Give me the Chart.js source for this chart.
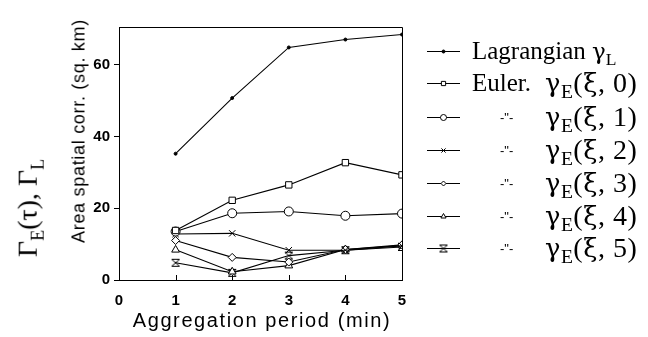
<!DOCTYPE html>
<html>
<head>
<meta charset="utf-8">
<script src="https://cdn.jsdelivr.net/npm/chart.js@4"></script>
<style>
  body { margin: 0; background: #fff; }
  #wrap { position: relative; width: 648px; height: 337px; overflow: hidden; }
  canvas { position: absolute; left: 0; top: 0; }
  .t { position: absolute; color: #000; white-space: nowrap; }
  .serif { font-family: "Liberation Serif", "DejaVu Serif", serif; }
  .sans { font-family: "Liberation Sans", Arial, sans-serif; }
  .rot { transform: translate(-50%, -50%) rotate(-90deg); }
  .meio { transform: translate(-50%, -50%); }
  .palavra { font-size: 25px; line-height: 28px; }
  .gama { font-size: 28px; line-height: 30px; letter-spacing: 0.5px; }
  .g { font-family: "DejaVu Serif", serif; font-size: 0.92em; }
  .palavra sub, .gama sub { font-size: 0.7em; vertical-align: -6px; line-height: 0; }
  .ditto { font-family: "Liberation Sans", Arial, sans-serif; font-size: 13px; }
</style>
</head>
<body>
<div id="wrap">
  <canvas id="grafico" width="648" height="337"></canvas>
  <div class="t sans rot" style="left:79px; top:131px; font-size:18px; letter-spacing:0.7px;">Area spatial corr. (sq. km)</div>
  <div class="t sans meio" style="left:262px; top:320px; font-size:20px; letter-spacing:1.6px;">Aggregation period (min)</div>
  <div class="t serif rot" style="left:30px; top:208px; font-size:28px;">Γ<sub style="font-size:18px;">E</sub>(τ), Γ<sub style="font-size:18px;">L</sub></div>
  <div id="legenda"></div>
</div>
<script>
// Valores
const periodos = [1, 2, 3, 4, 5];
const lagrangiano = [35.2, 50.7, 64.8, 67.0, 68.4];
const euler0 = [13.8, 22.2, 26.5, 32.7, 29.3];
const euler1 = [13.5, 18.6, 19.1, 17.9, 18.5];
const euler2 = [12.8, 13.0, 8.3, 8.3, 9.5];
const euler3 = [11.0, 6.3, 5.0, 8.5, 9.8];
const euler4 = [8.4, 2.3, 4.0, 8.5, 9.6];
const euler5 = [4.8, 2.0, 6.8, 8.3, 9.2];
const ticksY = [0, 20, 40, 60];
const ticksX = [0, 1, 2, 3, 4, 5];

const nomes = [
    'Lagrangian',
    'Euler.',
    '-"-', '-"-', '-"-', '-"-', '-"-'
];

// Posição vertical das linhas da legenda
const linhasY = [51, 83, 117, 150, 183, 216, 248];

// Marcador de ampulheta (não existe no Chart.js)
function criarAmpulheta() {
    const c = document.createElement('canvas');
    c.width = 10; c.height = 10;
    const g = c.getContext('2d');
    g.strokeStyle = '#000';
    g.fillStyle = '#fff';
    g.lineWidth = 1;
    g.beginPath();
    g.moveTo(1, 1.5); g.lineTo(9, 1.5); g.lineTo(1, 8.5); g.lineTo(9, 8.5); g.closePath();
    g.fill(); g.stroke();
    return c;
}
const ampulheta = criarAmpulheta();

function pontos(valores) {
    return periodos.map((p, i) => ({ x: p, y: valores[i] }));
}

function serie(valores, estilo, raio, rot) {
    return {
        data: pontos(valores),
        borderColor: '#000',
        borderWidth: 1.1,
        pointStyle: estilo,
        pointRadius: raio,
        pointRotation: rot || 0,
        pointBorderColor: '#000',
        pointBackgroundColor: '#fff',
        pointBorderWidth: 1,
        tension: 0
    };
}

const series = [
    Object.assign(serie(lagrangiano, 'circle', 1.5), { pointBackgroundColor: '#000' }),
    serie(euler0, 'rect', 4.5),
    serie(euler1, 'circle', 4.5),
    serie(euler2, 'cross', 4.5, 45),
    serie(euler3, 'rectRot', 4),
    serie(euler4, 'triangle', 4.5),
    serie(euler5, ampulheta, 5)
];

// Desenha moldura, ticks internos do eixo x e amostras da legenda
const extras = {
    id: 'extras',
    afterDraw(chart) {
        const ctx = chart.ctx;
        const a = chart.chartArea;
        const sx = chart.scales.x;
        ctx.save();
        ctx.strokeStyle = '#000';
        ctx.lineWidth = 1;
        ctx.beginPath();
        ctx.moveTo(a.left, a.top + 0.5); ctx.lineTo(a.right + 0.5, a.top + 0.5);
        ctx.lineTo(a.right + 0.5, a.bottom);
        ctx.stroke();
        ticksX.slice(1, 5).forEach(v => {
            const px = Math.round(sx.getPixelForValue(v)) + 0.5;
            ctx.beginPath();
            ctx.moveTo(px, a.bottom); ctx.lineTo(px, a.bottom - 5);
            ctx.stroke();
        });
        // legenda
        series.forEach((s, i) => {
            const y = linhasY[i] + 0.5;
            ctx.beginPath();
            ctx.moveTo(427, y); ctx.lineTo(460, y);
            ctx.stroke();
            ctx.fillStyle = s.pointBackgroundColor;
            ctx.strokeStyle = '#000';
            Chart.helpers.drawPoint(ctx, {
                pointStyle: s.pointStyle,
                radius: Math.max(1.5, s.pointRadius - 1.5),
                rotation: s.pointRotation,
                borderWidth: 1
            }, 443.5, y);
        });
        ctx.restore();
    }
};

function montarLegenda() {
    const alvo = document.getElementById('legenda');
    nomes.forEach((n, i) => {
        const y = linhasY[i];
        if (i === 0) {
            alvo.insertAdjacentHTML('beforeend',
                `<div class="t serif palavra" style="left:472px; top:${y - 14}px;">${n} <span class="g">γ</span><sub>L</sub></div>`);
            return;
        }
        if (i === 1) {
            alvo.insertAdjacentHTML('beforeend',
                `<div class="t serif palavra" style="left:472px; top:${y - 14}px;">${n}</div>`);
        } else {
            alvo.insertAdjacentHTML('beforeend',
                `<div class="t ditto" style="left:500px; top:${y - 7}px;">${n}</div>`);
        }
        alvo.insertAdjacentHTML('beforeend',
            `<div class="t serif gama" style="left:545px; top:${y - 15}px;"><span class="g">γ</span><sub>E</sub>(<span class="g">ξ</span>, ${i - 1})</div>`);
    });
}

window.onload = function() {
    montarLegenda();
    new Chart(document.getElementById('grafico').getContext('2d'), {
        type: 'line',
        data: { datasets: series },
        plugins: [extras],
        options: {
            responsive: false,
            animation: false,
            devicePixelRatio: 1,
            layout: { padding: { left: 0, right: 246, top: 27, bottom: 0 } },
            plugins: { legend: { display: false }, tooltip: { enabled: false } },
            scales: {
                x: {
                    type: 'linear',
                    min: 0,
                    max: 5,
                    afterFit: s => { s.height = 57; },
                    afterBuildTicks: s => { s.ticks = ticksX.map(v => ({ value: v })); },
                    grid: { drawOnChartArea: false, drawTicks: false },
                    border: { display: true, color: '#000', width: 1 },
                    ticks: {
                        color: '#000',
                        padding: 12,
                        font: { family: 'Liberation Sans', size: 15, weight: 'bold' }
                    }
                },
                y: {
                    min: 0,
                    max: 70.5,
                    afterFit: s => { s.width = 119; },
                    afterBuildTicks: s => { s.ticks = ticksY.map(v => ({ value: v })); },
                    grid: { drawOnChartArea: false, drawTicks: true, tickLength: 5, color: '#000' },
                    border: { display: true, color: '#000', width: 1 },
                    ticks: {
                        color: '#000',
                        padding: 4,
                        font: { family: 'Liberation Sans', size: 15, weight: 'bold' }
                    }
                }
            }
        }
    });
};
</script>
</body>
</html>
